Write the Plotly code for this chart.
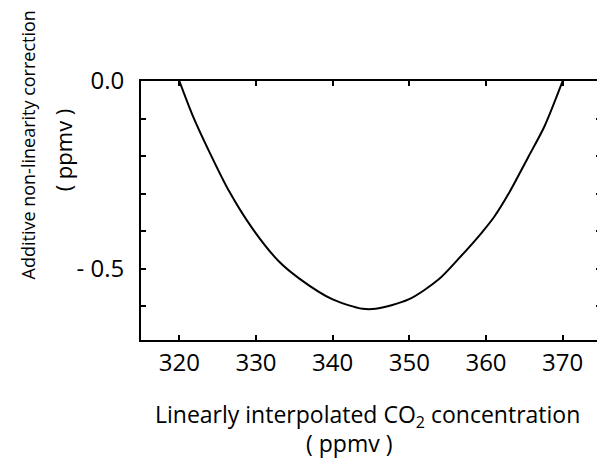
import plotly.graph_objects as go

# Curve
co2_ppmv = [320, 321.7, 323.9, 326.5, 329.5, 333.0, 335.7, 340.0, 343.9, 345.6,
            349.9, 353.8, 356.4, 359.4, 361.1, 362.9, 365.5, 367.6, 370]
correction = [0.0, -0.09, -0.188, -0.294, -0.392, -0.481, -0.527, -0.582, -0.607, -0.607,
              -0.582, -0.529, -0.474, -0.405, -0.361, -0.302, -0.203, -0.122, 0.0]

x_ticks = [320, 330, 340, 350, 360, 370]
y_ticks = [0.0, -0.5]
y_ticktext = ["0.0", "- 0.5"]
y_minor_ticks = [-0.1, -0.2, -0.3, -0.4, -0.6]

FONT = "Open Sans"
OFF = 8  # page body margin in the browser
W, H = 605 - OFF, 466 - OFF
L, R, T, B = 141 - OFF, 2, 81 - OFF, 126
pw, ph = W - L - R, H - T - B


def px(x):
    return (x - OFF - L) / pw


def py(y):
    return (H - B - (y - OFF)) / ph


fig = go.Figure()
fig.add_trace(go.Scatter(x=co2_ppmv, y=correction, mode="lines",
                         line=dict(color="black", width=2, shape="spline", smoothing=0.8),
                         showlegend=False, hoverinfo="skip"))

fig.update_layout(
    width=W, height=H,
    margin=dict(l=L, r=R, t=T, b=B),
    paper_bgcolor="white", plot_bgcolor="white",
    font=dict(family=FONT, size=19, color="black"),
    xaxis=dict(range=[315, 375], tickvals=x_ticks, ticks="inside", ticklen=5, tickwidth=1.5,
               tickcolor="black", showline=True, linecolor="black", linewidth=2, mirror="ticks",
               showgrid=False, zeroline=False, ticklabelstandoff=0,
               tickfont=dict(size=24, family=FONT)),
    yaxis=dict(range=[-0.69, 0.0], tickvals=y_ticks, ticktext=y_ticktext, ticks="inside",
               ticklen=5, tickwidth=1.5, tickcolor="black", showline=True, linecolor="black",
               linewidth=2, mirror="ticks", showgrid=False, zeroline=False,
               minor=dict(tickvals=y_minor_ticks, ticks="inside", ticklen=5, tickwidth=1.5,
                          tickcolor="black", showgrid=False),
               ticklabelstandoff=10, tickfont=dict(size=24, family=FONT)),
    annotations=[
        dict(text="Additive non-linearity correction", x=px(28), y=py(145), xref="paper",
             yref="paper", showarrow=False, textangle=-90, xanchor="center", yanchor="middle",
             font=dict(size=18)),
        dict(text="( ppmv )", x=px(63), y=py(150), xref="paper", yref="paper",
             showarrow=False, textangle=-90, xanchor="center", yanchor="middle",
             font=dict(size=22)),
        dict(text="Linearly interpolated CO<sub>2</sub> concentration", x=px(368), y=py(415),
             xref="paper", yref="paper", showarrow=False, xanchor="center", yanchor="middle",
             font=dict(size=23)),
        dict(text="( ppmv )", x=px(350), y=py(443), xref="paper", yref="paper",
             showarrow=False, xanchor="center", yanchor="middle", font=dict(size=23)),
    ],
)

fig.write_html("out.html")
